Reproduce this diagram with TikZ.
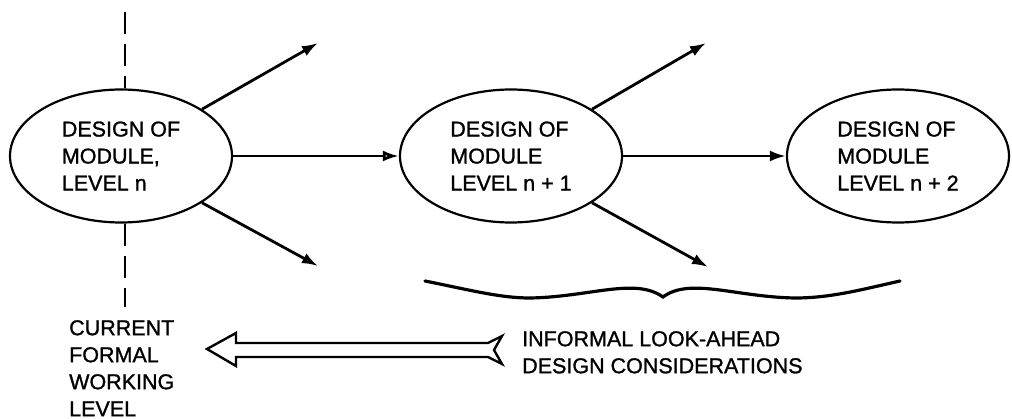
\documentclass[tikz,border=0pt]{standalone}
\usepackage{fontspec}
\setmainfont{Liberation Sans}[BoldFont=Liberation Sans,BoldFeatures={FakeBold=1.2}]
\usetikzlibrary{arrows.meta,shapes.geometric}
\begin{document}
\begin{tikzpicture}[x=1pt,y=-1pt,
  every node/.style={font=\fontsize{21.5}{27}\selectfont\bfseries},
  module/.style={ellipse,draw,line width=2.2pt,minimum width=222pt,minimum height=133pt,
                 inner sep=0pt,align=left},
  flow/.style={line width=2.8pt,-{Latex[length=16pt,width=11pt]}},
  lbl/.style={align=left,anchor=north west,inner sep=0pt}]
\useasboundingbox (0,0) rectangle (1012,419);

% modules
\node[module] (e1) at (121,156) {DESIGN OF\\MODULE,\\LEVEL n};
\node[module] (e2) at (511,156) {DESIGN OF\\MODULE\\LEVEL n + 1};
\node[module] (e3) at (898,156) {DESIGN OF\\MODULE\\LEVEL n + 2};

% free ends of the look-ahead arrows
\coordinate (a1) at (318,43);
\coordinate (a2) at (318,266);
\coordinate (b1) at (706,43);
\coordinate (b2) at (708,267);

\draw[flow] (e1.30) -- (a1);
\draw[flow] (e1.-30) -- (a2);
\draw[line width=2.8pt,-{Latex[open,length=16pt,width=11pt]}] (e1.east) -- (e2.west);
\draw[flow] (e2.30) -- (b1);
\draw[flow] (e2.-30) -- (b2);
\draw[flow] (e2.east) -- (e3.west);

% current working level boundary
\coordinate (d1) at (125,12);
\coordinate (d2) at (125,307);
\draw[line width=2.6pt,dash pattern=on 22pt off 10pt] (d1) -- (d1 |- e1.north);
\draw[line width=2.6pt,dash pattern=on 22pt off 10pt] (d1 |- e1.south) -- (d2);

% brace over the look-ahead levels
\draw[line width=3.2pt,line cap=round]
  (425,281) .. controls (470,290) and (500,298) .. (530,298)
  .. controls (590,297) and (635,277) .. (663,297)
  .. controls (690,277) and (735,297) .. (795,298)
  .. controls (830,298) and (860,290) .. (900,281);

% labels
\node[lbl] (cur) at (69,320) {CURRENT\\FORMAL\\WORKING\\LEVEL};
\node[lbl] (inf) at (522,331) {INFORMAL LOOK-AHEAD\\DESIGN CONSIDERATIONS};

% wide hollow arrow from the look-ahead label back to the working level
\draw[line width=2.4pt,line join=miter]
  (207,349) -- (236,333) -- (236,343) -- (488,343) -- (502,336) -- (494,350)
  -- (502,364) -- (488,357) -- (236,357) -- (236,366) -- cycle;
\end{tikzpicture}
\end{document}
